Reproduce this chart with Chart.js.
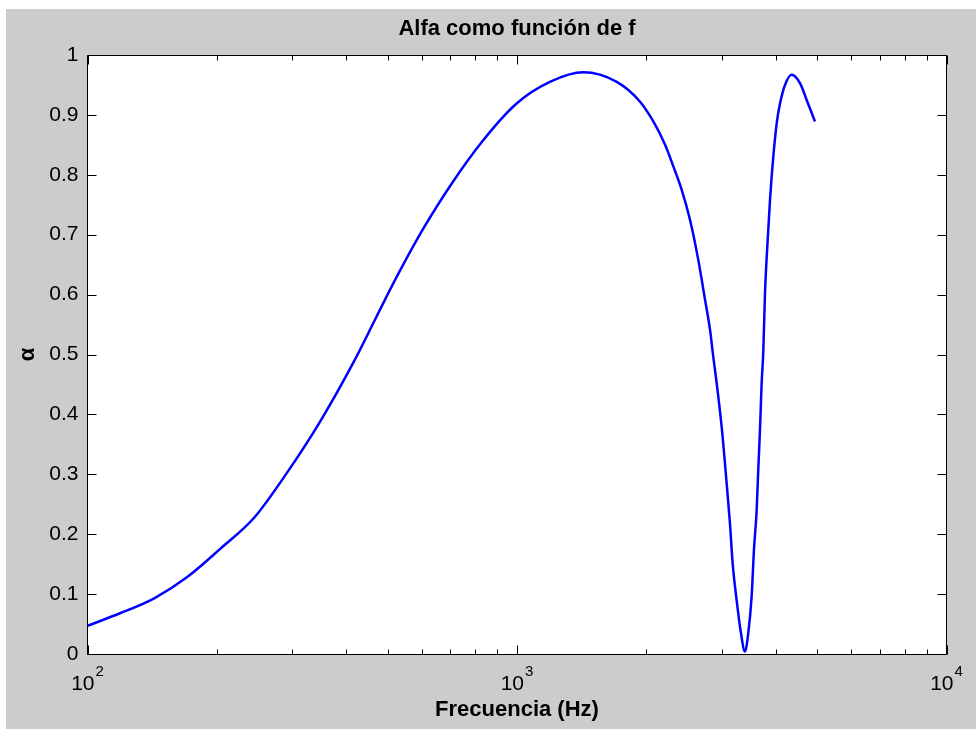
<!DOCTYPE html>
<html><head><meta charset="utf-8">
<script src="https://cdn.jsdelivr.net/npm/chart.js@4/dist/chart.umd.min.js"></script>
<style>
html,body{margin:0;padding:0;background:#fff;}
#wrap{position:absolute;left:6px;top:9px;width:970px;height:720px;background:#cccccc;}
canvas{display:block;}
</style></head><body>
<div id="wrap"><canvas id="c" width="970" height="720"></canvas></div>
<script>
const chartTitle = 'Alfa como función de f';
const xAxisTitle = 'Frecuencia (Hz)';
const yAxisTitle = 'α';

const freqHz = [100, 119, 143, 171, 204, 244, 291, 348, 417, 467, 498, 534, 605, 698, 835, 998, 1193, 1427, 1707, 1934, 2077, 2212, 2312, 2418, 2528, 2643, 2741, 2815, 2864, 2917, 2996, 3077, 3132, 3178, 3246, 3322, 3394, 3455, 3518, 3562, 3614, 3645, 3679, 3712, 3745, 3779, 3814, 3882, 3951, 4024, 4096, 4207, 4361, 4559, 4725, 4940];
const alpha = [0.047, 0.068, 0.093, 0.129, 0.176, 0.227, 0.302, 0.388, 0.488, 0.558, 0.598, 0.640, 0.710, 0.781, 0.858, 0.919, 0.955, 0.971, 0.955, 0.922, 0.889, 0.850, 0.814, 0.775, 0.725, 0.658, 0.591, 0.541, 0.496, 0.452, 0.379, 0.285, 0.218, 0.151, 0.090, 0.035, 0.004, 0.035, 0.096, 0.174, 0.240, 0.307, 0.374, 0.452, 0.505, 0.602, 0.663, 0.758, 0.830, 0.886, 0.919, 0.950, 0.967, 0.953, 0.925, 0.889];

const xMajorTicks = [100, 1000, 10000];
const xTickBase = '10';
const xTickExponents = ['2', '3', '4'];
const xMinorTicks = [200, 300, 400, 500, 600, 700, 800, 900, 2000, 3000, 4000, 5000, 6000, 7000, 8000, 9000];
const yTicks = [0, 0.1, 0.2, 0.3, 0.4, 0.5, 0.6, 0.7, 0.8, 0.9, 1];

const FONT = "'Liberation Sans', Arial, Helvetica, sans-serif";

const matlabAxes = {
  id: 'matlabAxes',
  beforeDraw(chart) {
    const {ctx, chartArea: a} = chart;
    ctx.save();
    ctx.fillStyle = '#ffffff';
    ctx.fillRect(a.left, a.top, a.right - a.left, a.bottom - a.top);
    ctx.restore();
  },
  afterDraw(chart) {
    const {ctx, chartArea: a, scales: {x, y}} = chart;
    const L = Math.floor(a.left) + 0.5, R = Math.floor(a.right) + 0.5;
    const T = Math.floor(a.top) + 0.5, B = Math.floor(a.bottom) + 0.5;
    ctx.save();
    ctx.strokeStyle = '#000';
    ctx.lineWidth = 1;
    ctx.beginPath();
    ctx.rect(L, T, R - L, B - T);
    yTicks.forEach(v => {
      const p = Math.round(y.getPixelForValue(v)) + 0.5;
      ctx.moveTo(L, p); ctx.lineTo(L + 9, p);
      ctx.moveTo(R, p); ctx.lineTo(R - 9, p);
    });
    xMajorTicks.forEach(v => {
      const p = Math.round(x.getPixelForValue(v)) + 0.5;
      ctx.moveTo(p, B); ctx.lineTo(p, B - 9);
      ctx.moveTo(p, T); ctx.lineTo(p, T + 9);
    });
    xMinorTicks.forEach(v => {
      const p = Math.round(x.getPixelForValue(v)) + 0.5;
      ctx.moveTo(p, B); ctx.lineTo(p, B - 5);
      ctx.moveTo(p, T); ctx.lineTo(p, T + 5);
    });
    ctx.stroke();
    ctx.fillStyle = '#000';
    ctx.textAlign = 'left';
    ctx.textBaseline = 'alphabetic';
    xMajorTicks.forEach((v, i) => {
      const p = x.getPixelForValue(v);
      ctx.font = '21px ' + FONT;
      const w1 = ctx.measureText(xTickBase).width;
      ctx.font = '15px ' + FONT;
      const w2 = ctx.measureText(xTickExponents[i]).width;
      const start = p - (w1 + w2 + 1) / 2;
      ctx.font = '21px ' + FONT;
      ctx.fillText(xTickBase, start, B + 35);
      ctx.font = '15px ' + FONT;
      ctx.fillText(xTickExponents[i], start + w1 + 1, B + 21);
    });
    ctx.restore();
  }
};

new Chart(document.getElementById('c'), {
  type: 'line',
  data: {
    datasets: [{
      data: freqHz.map((f, i) => ({x: f, y: alpha[i]})),
      borderColor: '#0000ff',
      borderWidth: 2.5,
      pointRadius: 0,
      cubicInterpolationMode: 'monotone',
      fill: false
    }]
  },
  options: {
    responsive: false,
    animation: false,
    devicePixelRatio: 1,
    layout: {padding: {left: 0, right: 29.5, top: 0, bottom: 0}},
    plugins: {
      legend: {display: false},
      tooltip: {enabled: false},
      title: {
        display: true,
        text: chartTitle,
        fullSize: false,
        color: '#000',
        font: {family: FONT, size: 22, weight: 'bold', lineHeight: 1.2},
        padding: {top: 7, bottom: 12.6}
      }
    },
    scales: {
      x: {
        type: 'logarithmic',
        min: 100,
        max: 10000,
        afterBuildTicks: s => { s.ticks = xMajorTicks.map(v => ({value: v})); },
        afterFit: s => { s.height = 75; },
        grid: {display: false, drawTicks: false},
        border: {display: false},
        ticks: {display: false},
        title: {
          display: true,
          text: xAxisTitle,
          color: '#000',
          font: {family: FONT, size: 22, weight: 'bold', lineHeight: 1.2},
          padding: {top: 0, bottom: 5.8}
        }
      },
      y: {
        type: 'linear',
        min: 0,
        max: 1,
        afterBuildTicks: s => { s.ticks = yTicks.map(v => ({value: v})); },
        afterFit: s => { s.width = 81.5; },
        grid: {display: false, drawTicks: false},
        border: {display: false},
        ticks: {
          color: '#000',
          padding: 9,
          font: {family: FONT, size: 21},
          callback: v => String(v)
        },
        title: {
          display: true,
          text: yAxisTitle,
          color: '#000',
          font: {family: FONT, size: 22, weight: 'bold', lineHeight: 1.2},
          padding: {top: 8.8, bottom: 0}
        }
      }
    }
  },
  plugins: [matlabAxes]
});
</script>
</body></html>
